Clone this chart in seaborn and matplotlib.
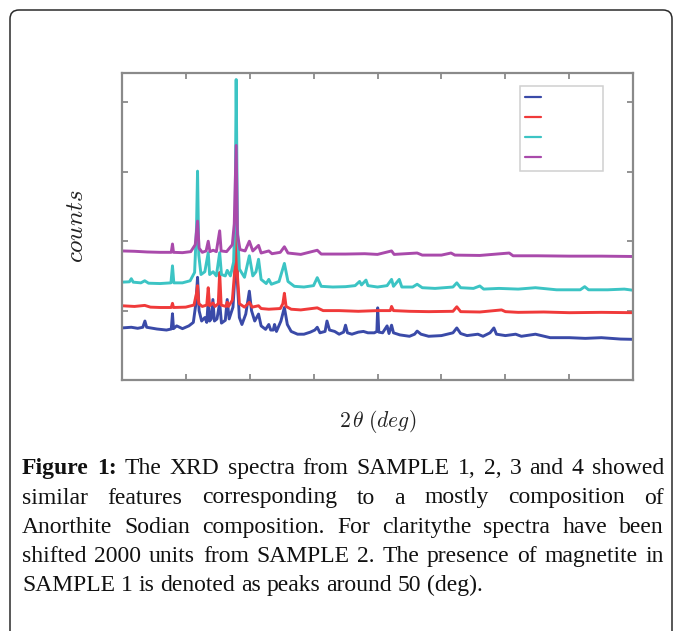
import matplotlib
matplotlib.use("Agg")
import matplotlib.pyplot as plt
import numpy as np
import pandas as pd
import seaborn as sns
from matplotlib.patches import FancyBboxPatch

# ---------------- data ----------------
samples = ["SAMPLE 1", "SAMPLE 2", "SAMPLE 3", "SAMPLE 4"]
colors = ["#3a4aa8", "#f03a3a", "#3cc4c4", "#a94aab"]

s1_x = [10, 11.5, 12.5, 13.3, 13.63, 13.9, 15.5, 17.0, 17.75, 17.94, 18.1, 18.6, 19.5, 20.5, 21.2, 21.6,
        21.86, 22.1, 22.5, 23.0, 23.3, 23.53, 23.75, 24.0, 24.26, 24.5, 24.9, 25.32, 25.6, 26.2, 26.5,
        26.8, 27.4, 27.7, 27.9, 28.1, 28.4, 28.8, 29.4, 29.96, 30.3, 30.8, 31.4, 31.8, 32.5, 33.0, 33.3,
        33.7, 33.9, 34.2, 34.9, 35.44, 35.9, 36.5, 37.5, 38.5, 39.5, 40.2, 40.58, 41.0, 41.8, 42.1, 42.5,
        43.3, 44.0, 44.7, 45.0, 45.3, 46.0, 47.0, 47.8, 48.5, 49.5, 49.9, 50.03, 50.2, 50.8, 51.5, 51.8,
        52.2, 52.5, 53.5, 55.0, 55.8, 56.2, 56.8, 58.0, 60.0, 61.8, 62.4, 63.0, 64.0, 65.7, 66.5, 67.6,
        68.2, 68.6, 70.0, 71.6, 72.5, 74.7, 77.0, 80.0, 82.5, 85.0, 88.0, 90.0]
s1_y = [750, 760, 745, 760, 850, 760, 735, 720, 735, 955, 740, 780, 740, 780, 830, 1100,
        1480, 1000, 850, 900, 830, 1140, 850, 880, 1160, 850, 880, 1115, 820, 860, 1160,
        880, 1050, 1500, 2630, 1400, 900, 800, 950, 1280, 1000, 850, 950, 780, 730, 800, 720,
        720, 800, 700, 850, 1045, 800, 700, 660, 660, 690, 720, 760, 680, 700, 850, 720,
        700, 660, 690, 790, 680, 660, 690, 700, 680, 680, 700, 1040, 690, 680, 780, 670,
        790, 680, 650, 630, 660, 705, 660, 630, 640, 680, 750, 670, 640, 660, 630, 680,
        750, 660, 640, 660, 630, 660, 610, 610, 600, 610, 590, 586]

s2_x = [10, 12, 13.6, 14.5, 16, 17.75, 17.94, 18.1, 20, 21.3, 21.7, 21.86, 22.05, 22.6, 23.3, 23.53,
        23.75, 24.26, 24.6, 25.1, 25.32, 25.55, 26.3, 26.5, 26.7, 27.3, 27.7, 27.9, 28.1, 28.4, 29.2,
        29.96, 30.4, 31.4, 31.8, 33.0, 34.8, 35.2, 35.44, 35.7, 36.5, 38.0, 40.58, 41.5, 44.0, 47.0,
        50.0, 52.0, 52.2, 52.5, 55.0, 58.0, 61.8, 62.4, 63.0, 66.0, 69.4, 70.0, 72.0, 76.0, 80.0, 85.0, 90.0]
s2_y = [1070, 1060, 1075, 1050, 1045, 1045, 1105, 1045, 1050, 1080, 1250, 1360, 1100, 1060, 1080, 1330,
        1070, 1110, 1060, 1100, 1550, 1080, 1060, 1120, 1060, 1150, 1600, 2290, 1500, 1100, 1050,
        1120, 1050, 1070, 1030, 1020, 1030, 1100, 1250, 1060, 1020, 1010, 1040, 1000, 1000, 990,
        1000, 1000, 1060, 1000, 990, 985, 990, 1055, 985, 980, 1010, 985, 975, 980, 970, 975, 970]

s3_x = [10, 11.2, 11.5, 11.8, 13.0, 13.6, 14.2, 16.0, 17.7, 17.94, 18.15, 19.5, 20.7, 21.4, 21.7, 21.86,
        22.05, 22.4, 23.0, 23.53, 23.75, 24.3, 24.8, 25.32, 25.6, 26.2, 26.5, 27.0, 27.5, 27.75, 27.9,
        28.1, 28.4, 29.2, 29.96, 30.5, 31.0, 31.4, 31.8, 32.6, 33.0, 33.4, 34.6, 35.44, 36.0, 37.0,
        38.5, 40.0, 40.58, 41.2, 43.0, 45.0, 46.5, 47.2, 47.5, 48.2, 48.5, 50.0, 51.5, 52.2, 52.5,
        53.4, 53.8, 55.5, 56.2, 57.0, 59.0, 61.8, 62.4, 63.0, 65.0, 66.0, 66.6, 69.0, 72.0, 74.7,
        78.0, 81.7, 82.4, 83.0, 86.0, 88.6, 90.0]
s3_y = [1410, 1415, 1460, 1410, 1400, 1430, 1395, 1390, 1400, 1645, 1400, 1400, 1430, 1550, 2200, 3010,
        1800, 1520, 1560, 1835, 1520, 1560, 1500, 1835, 1520, 1500, 1580, 1500, 1700, 2500, 4330,
        2200, 1600, 1480, 1790, 1500, 1560, 1740, 1450, 1390, 1450, 1380, 1420, 1680, 1420, 1350,
        1340, 1360, 1475, 1350, 1340, 1345, 1360, 1420, 1370, 1440, 1360, 1340, 1360, 1450, 1350,
        1450, 1340, 1340, 1380, 1330, 1320, 1340, 1400, 1330, 1320, 1355, 1310, 1320, 1310, 1330,
        1300, 1300, 1345, 1300, 1300, 1310, 1293]

s4_x = [10, 12, 14, 16, 17.75, 17.94, 18.1, 19.5, 20.8, 21.5, 21.86, 22.1, 22.6, 23.2, 23.53, 23.8,
        24.3, 24.8, 25.32, 25.55, 26.4, 27.3, 27.6, 27.9, 28.1, 28.5, 29.3, 29.96, 30.5, 31.4, 31.8,
        33.0, 33.5, 34.8, 35.44, 36.0, 38.0, 40.58, 41.2, 45.0, 48.0, 50.0, 52.2, 52.6, 56.2, 57.0,
        60.0, 61.5, 62.1, 66.0, 70.6, 71.2, 75.0, 80.0, 85.0, 90.0]
s4_y = [1860, 1855, 1845, 1840, 1840, 1960, 1840, 1835, 1850, 1950, 2290, 1900, 1840, 1860, 2000, 1850,
        1870, 1850, 2150, 1860, 1850, 1950, 2250, 3380, 2100, 1880, 1860, 2000, 1860, 1940, 1830,
        1860, 1820, 1840, 1920, 1830, 1810, 1870, 1815, 1815, 1820, 1810, 1860, 1810, 1830, 1800,
        1800, 1830, 1800, 1795, 1830, 1790, 1790, 1785, 1785, 1780]

x_ticks = [20, 30, 40, 50, 60, 70, 80]
y_ticks = [1000, 2000, 3000, 4000]

caption_lines = [
    "Figure 1: The XRD spectra from SAMPLE 1, 2, 3 and 4 showed",
    "similar features corresponding to a mostly composition of",
    "Anorthite Sodian composition. For claritythe spectra have been",
    "shifted 2000 units from SAMPLE 2. The presence of magnetite in",
    "SAMPLE 1 is denoted as peaks around 50 (deg).",
]

# ---------------- build table ----------------
frames = []
for name, xs, ys in zip(samples, [s1_x, s2_x, s3_x, s4_x], [s1_y, s2_y, s3_y, s4_y]):
    frames.append(pd.DataFrame({"two_theta": xs, "counts": ys, "sample": name}))
df = pd.concat(frames, ignore_index=True)

# ---------------- figure ----------------
sns.set_theme(style="white")
plt.rcParams["mathtext.fontset"] = "cm"
plt.rcParams["font.family"] = ["DejaVu Sans"]

W, H = 683, 631
fig = plt.figure(figsize=(W / 100, H / 100), dpi=100)
fig.patch.set_facecolor("white")

# rounded frame around everything
frame = FancyBboxPatch((10 / 100, -0.5), 662 / 100, (H - 10) / 100 + 0.5,
                       boxstyle="round,pad=0,rounding_size=0.09",
                       transform=fig.dpi_scale_trans, facecolor="none",
                       edgecolor="#2a2a2a", linewidth=1.1, zorder=0)
fig.patches.append(frame)

ax_l, ax_r, ax_t, ax_b = 121.7, 633.3, 73.3, 380.0
ax = fig.add_axes([ax_l / W, 1 - ax_b / H, (ax_r - ax_l) / W, (ax_b - ax_t) / H])

sns.lineplot(data=df, x="two_theta", y="counts", hue="sample", hue_order=samples,
             palette=colors, estimator=None, sort=False, linewidth=2.1, ax=ax, legend=False)

ax.set_xlim(10, 90)
ax.set_ylim(0, 4420)
ax.set_xticks(x_ticks)
ax.set_yticks(y_ticks)
ax.tick_params(direction="in", length=4, width=1.3, color="#8a8a8a",
               top=True, right=True, bottom=True, left=True,
               labelbottom=False, labelleft=False)
for sp in ax.spines.values():
    sp.set_color("#8a8a8a")
    sp.set_linewidth(1.6)
ax.set_facecolor("white")

ax.set_xlabel(r"$2\,\theta\;(deg)$", fontsize=15.5, labelpad=20, color="#222222")
ax.set_ylabel(r"$counts$", fontsize=18, labelpad=24, color="#222222")

handles = ax.get_lines()[:4]
leg = ax.legend(handles, [" "] * 4, loc="upper right",
                bbox_to_anchor=(0.9414, 0.9596), borderaxespad=0,
                fontsize=10, handlelength=1.15, handletextpad=3.75,
                borderpad=0.4, labelspacing=0.43, frameon=True, fancybox=False)
leg.get_frame().set_edgecolor("#c4c4c4")
leg.get_frame().set_linewidth(1.1)
for lh in leg.get_lines():
    lh.set_linewidth(1.6)

# ---------------- justified caption ----------------
CAP_FS = 17
serif = ["Liberation Serif", "DejaVu Serif"]
left_px, right_px = 22, 664
baselines = [474, 503.5, 533, 562, 591]

fig.canvas.draw()
rend = fig.canvas.get_renderer()

for i, line in enumerate(caption_lines):
    words = line.split(" ")
    objs = []
    for j, w in enumerate(words):
        bold = (i == 0 and j < 2)
        t = fig.text(0, 0, w, fontsize=CAP_FS, family=serif,
                     weight="bold" if bold else "normal", color="#111111",
                     ha="left", va="baseline", transform=fig.dpi_scale_trans)
        objs.append(t)
    widths = [t.get_window_extent(rend).width for t in objs]
    justify = i < len(caption_lines) - 1
    if justify:
        gap = (right_px - left_px - sum(widths)) / (len(objs) - 1)
    else:
        gap = CAP_FS * 100 / 72 * 0.25
    x = left_px
    y_in = (H - baselines[i]) / 100
    for t, wdt in zip(objs, widths):
        t.set_position((x / 100, y_in))
        x += wdt + gap

fig.savefig("out.png", dpi=100, facecolor="white")
